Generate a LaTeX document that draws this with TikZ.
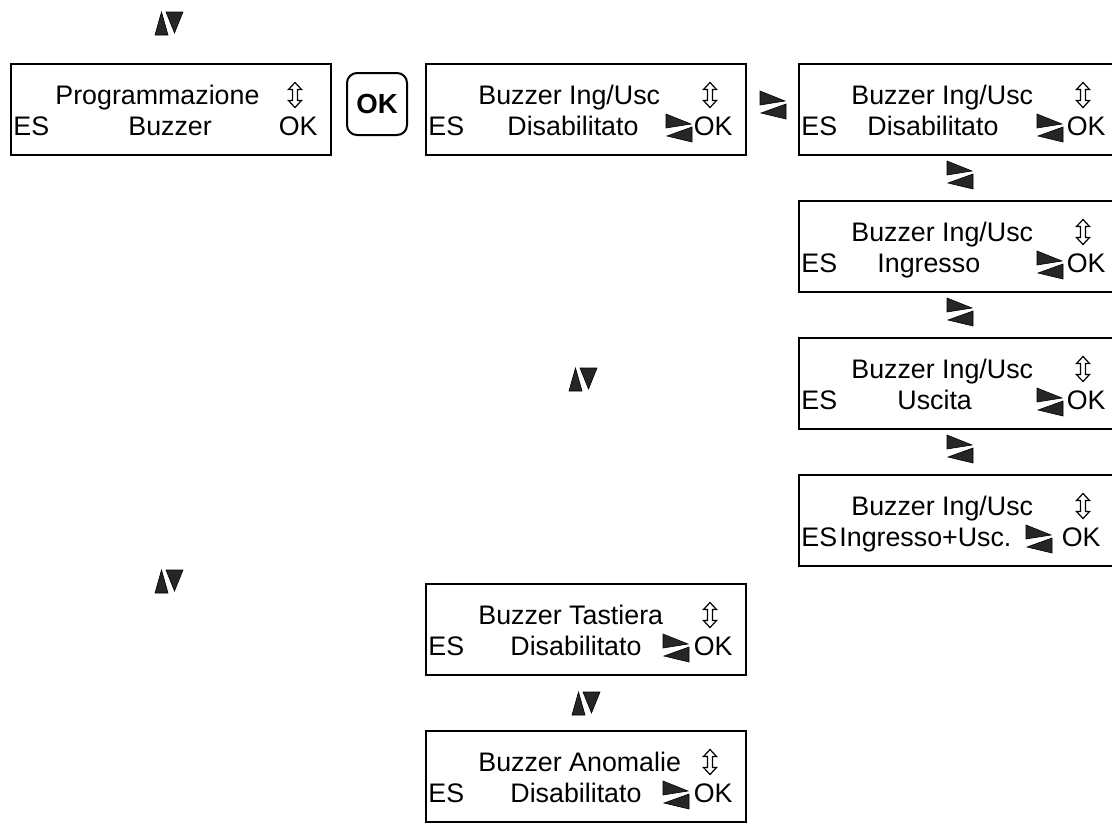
\documentclass[tikz,border=0pt]{standalone}
\usepackage{fontspec}
\setmainfont{Liberation Sans}
\usetikzlibrary{calc}
\tikzset{
  screen/.style={draw,line width=1.1pt,minimum width=160pt,minimum height=45.5pt,inner sep=0pt},
  lcd/.style={font=\fontsize{13.4}{15}\selectfont,inner sep=0pt},
  okkey/.style={draw,line width=1pt,rounded corners=5pt,minimum width=30pt,minimum height=31pt,
    inner sep=0pt,font=\fontsize{13.8}{15}\selectfont\bfseries},
  tri/.style={fill=black!85,draw=black,line width=0.3pt,line join=miter},
  % up/down keys
  scroll/.pic={
    \path[tri] (-14,12) -- (-1,12) -- (-7.5,-11) -- cycle;
    \path[tri] (-3,-11) -- (14,-11) -- (5.5,10) -- cycle;
  },
  % change value keys
  swap/.pic={
    \path[tri] (-13,-14) -- (-13,0) -- (12,-4) -- cycle;
    \path[tri] (13,-1) -- (13,14) -- (-12,8) -- cycle;
  },
  % hollow up/down arrow of the display
  updown/.pic={
    \draw[line width=0.6pt,fill=white,line join=miter] (0,-12.5) -- (6.5,-5.5) -- (2.5,-5.5)
      -- (2.5,5.5) -- (6.5,5.5) -- (0,12.5) -- (-6.5,5.5) -- (-2.5,5.5) -- (-2.5,-5.5)
      -- (-6.5,-5.5) -- cycle;
  }
}
% [OK x] name, left, top, title x, title, value x, value
\newcommand{\lcdbox}[8][308]{%
  \node[screen,anchor=north west] (#2) at (#3,#4) {};
  \node[lcd,anchor=base west] (#2-title) at ($(#2.north west)+(#5,41)$) {#6};
  \node[lcd,anchor=base west] (#2-es) at ($(#2.north west)+(3,72)$) {ES};
  \node[lcd,anchor=base west] (#2-value) at ($(#2.north west)+(#7,72)$) {#8};
  \node[lcd,anchor=base east] (#2-ok) at ($(#2.north west)+(#1,72)$) {OK};
  \pic at ($(#2.north west)+(285,32)$) {updown};
}

\begin{document}
\begin{tikzpicture}[x=0.5pt,y=-0.5pt]
  \clip (0,0) rectangle (1112,826);

  \lcdbox{prog}{10}{63}{45}{Programmazione}{118}{Buzzer}
  \node[okkey] (key) at (377,104) {OK};
  \lcdbox{ingusc}{425}{63}{53}{Buzzer Ing/Usc}{82}{Disabilitato}
  \pic at ($(ingusc.north west)+(254,65)$) {swap};
  \pic at (773,105) {swap};

  % values of Buzzer Ing/Usc
  \foreach \t/\vx/\val [count=\i] in {63/69/Disabilitato,200/79/Ingresso,337/99/Uscita} {
    \lcdbox{val\i}{798}{\t}{53}{Buzzer Ing/Usc}{\vx}{\val}
    \pic at ($(val\i.north west)+(252,65)$) {swap};
  }
  \lcdbox[303]{val4}{798}{474}{53}{Buzzer Ing/Usc}{41}{Ingresso+Usc.}
  \pic at ($(val4.north west)+(241,65)$) {swap};
  \foreach \y in {175,312,449}
    \pic at (960,\y) {swap};

  \lcdbox{tast}{425}{583}{53}{Buzzer Tastiera}{85}{Disabilitato}
  \pic at ($(tast.north west)+(251,65)$) {swap};
  \lcdbox{anom}{425}{730}{53}{Buzzer Anomalie}{85}{Disabilitato}
  \pic at ($(anom.north west)+(251,65)$) {swap};

  \foreach \p in {(169,23),(583,379),(169,581),(586,703)}
    \pic at \p {scroll};
\end{tikzpicture}
\end{document}
